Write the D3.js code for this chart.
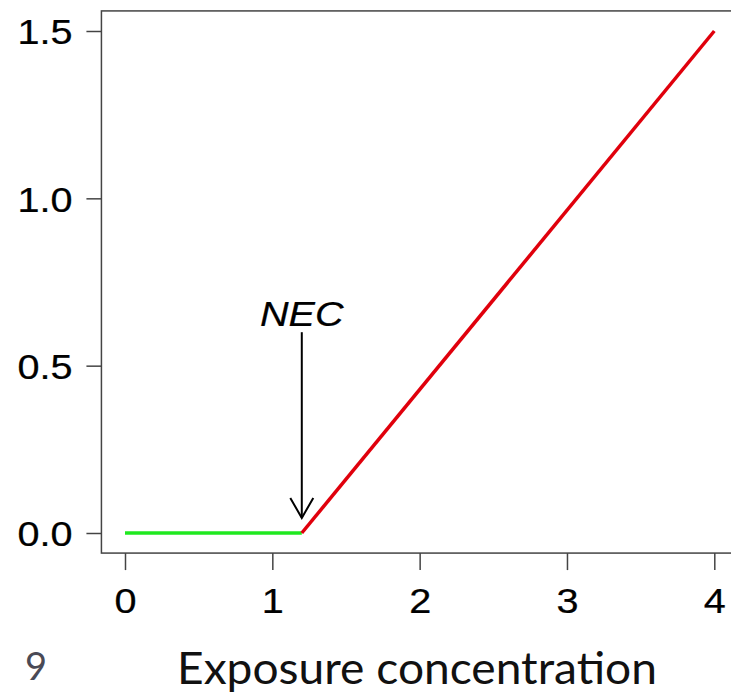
<!DOCTYPE html>
<html>
<head>
<meta charset="utf-8">
<script src="https://cdn.jsdelivr.net/npm/d3@7"></script>
<style>
  body { margin: 0; background: #fff; }
  svg { display: block; }
</style>
</head>
<body>
<svg id="chart" width="731" height="693"></svg>
<script>
// NEC threshold model: zero effect below NEC, linear above it
const NEC = 1.2;
const noEffect = [[0, 0], [1.2, 0]];
const effect = [[1.2, 0], [4, 1.5]];
const xTicks = [0, 1, 2, 3, 4];
const yTicks = [0, 0.5, 1.0, 1.5];
const arrowFrom = 0.6;
const arrowTo = 0.045;

const FONT = "'Liberation Sans', Arial, sans-serif";
const STRETCH = 1.1;
const TEXT_STROKE = 0.25;

const svg = d3.select("#chart");

const x = d3.scaleLinear().domain([0, 4]).range([125, 714.3]);
const y = d3.scaleLinear().domain([0, 1.5]).range([533, 31]);

// R-style plot region with 4% padding
const xPad = 0.16, yPad = 0.06;
svg.append("rect")
  .attr("x", x(-xPad))
  .attr("y", y(1.5 + yPad))
  .attr("width", x(4 + xPad) - x(-xPad))
  .attr("height", y(-yPad) - y(1.5 + yPad))
  .attr("fill", "none")
  .attr("stroke", "#444")
  .attr("stroke-width", 1.5);

const xAxis = svg.append("g")
  .attr("transform", `translate(0,${y(-yPad)})`)
  .call(d3.axisBottom(x).tickValues(xTicks).tickSize(17).tickPadding(17)
    .tickFormat(d3.format("d")));
xAxis.select(".domain").remove();
xAxis.selectAll(".tick line").attr("stroke", "#444").attr("stroke-width", 1.5);
xAxis.selectAll(".tick text")
  .style("font-family", FONT)
  .style("font-size", "36px")
  .attr("fill", "#000")
  .attr("stroke", "#000")
  .attr("stroke-width", TEXT_STROKE)
  .attr("transform", `scale(${STRETCH},1)`)
  .attr("x", 0);

const yAxis = svg.append("g")
  .attr("transform", `translate(${x(-xPad)},0)`)
  .call(d3.axisLeft(y).tickValues(yTicks).tickSize(15).tickPadding(14)
    .tickFormat(d3.format(".1f")));
yAxis.select(".domain").remove();
yAxis.selectAll(".tick line").attr("stroke", "#444").attr("stroke-width", 1.5);
yAxis.selectAll(".tick text")
  .style("font-family", FONT)
  .style("font-size", "36px")
  .attr("fill", "#000")
  .attr("stroke", "#000")
  .attr("stroke-width", TEXT_STROKE)
  .attr("dy", "0.36em")
  .attr("transform", function () {
    const tx = +d3.select(this).attr("x");
    return `translate(${tx},0) scale(${STRETCH},1)`;
  })
  .attr("x", 0);

const line = d3.line().x(d => x(d[0])).y(d => y(d[1]));

svg.append("path")
  .attr("d", line(noEffect))
  .attr("fill", "none")
  .attr("stroke", "#1fe81f")
  .attr("stroke-width", 3.5);

svg.append("path")
  .attr("d", line(effect))
  .attr("fill", "none")
  .attr("stroke", "#e0000c")
  .attr("stroke-width", 3.5);

// arrow pointing at the NEC
const ax = x(NEC), ay0 = y(arrowFrom), ay1 = y(arrowTo);
svg.append("line")
  .attr("x1", ax).attr("y1", ay0)
  .attr("x2", ax).attr("y2", ay1)
  .attr("stroke", "#000").attr("stroke-width", 2);
svg.append("path")
  .attr("d", `M${ax - 11.5},${ay1 - 20} L${ax},${ay1} L${ax + 11.5},${ay1 - 20}`)
  .attr("fill", "none")
  .attr("stroke", "#000")
  .attr("stroke-width", 2);

svg.append("text")
  .attr("transform", `translate(${ax},${y(arrowFrom) - 6}) scale(${STRETCH},1)`)
  .attr("text-anchor", "middle")
  .attr("stroke", "#000")
  .attr("stroke-width", TEXT_STROKE)
  .style("font-family", FONT)
  .style("font-style", "italic")
  .style("font-size", "36px")
  .text("NEC");

// slide footer: page number and axis title
svg.append("text")
  .attr("x", 25)
  .attr("y", 680)
  .style("font-family", "Lato, sans-serif")
  .style("font-size", "38px")
  .attr("fill", "#4a4a55")
  .text("9");

svg.append("text")
  .attr("x", 177)
  .attr("y", 684)
  .style("font-family", "Lato, sans-serif")
  .style("font-size", "44px")
  .attr("fill", "#111")
  .attr("textLength", 480)
  .attr("lengthAdjust", "spacingAndGlyphs")
  .text("Exposure concentration");
</script>
</body>
</html>
